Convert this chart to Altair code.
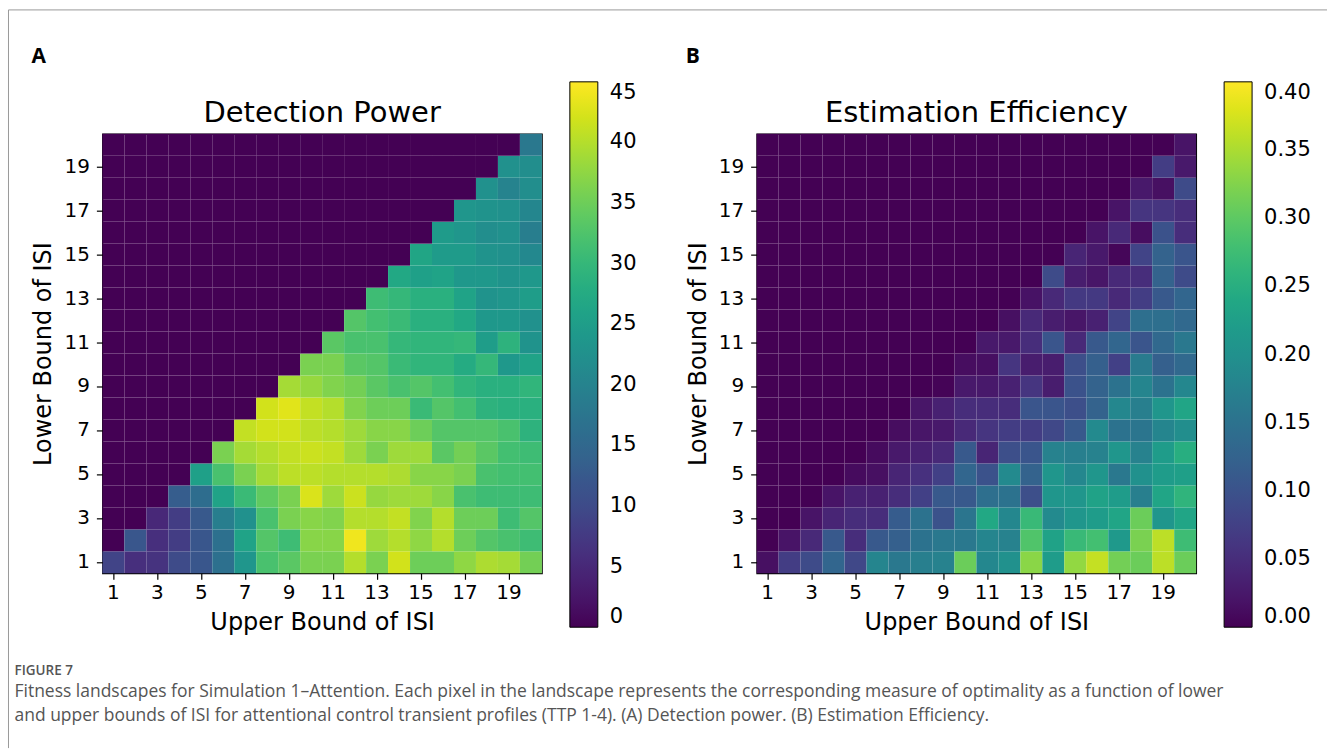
import altair as alt
import pandas as pd

# ---------------- data ----------------
upper_bounds = list(range(1, 21))
lower_bounds = list(range(1, 21))
tick_labels = [1, 3, 5, 7, 9, 11, 13, 15, 17, 19]

# Detection power: row i = lower bound i, values for upper bound i..20
dp_rows = [
    [9, 6, 6.5, 10, 12, 16.5, 23.5, 32, 33.5, 36, 36, 40, 36, 42, 35, 35, 37.5, 39.5, 39, 35.5],
    [12, 6, 8, 12, 16.5, 26, 33, 31, 37, 37, 44, 38.5, 40, 37.5, 40, 35, 33, 32, 31],
    [5, 8, 12.5, 19, 22.5, 32, 36, 37, 36.5, 40, 40, 41, 36.5, 40, 35, 35, 31, 33],
    [13, 16, 26, 30.5, 34, 36, 42.5, 38.5, 41.5, 38, 38.5, 38.5, 37, 32, 31, 31, 31],
    [25.5, 32, 36, 39, 40.5, 40.5, 40, 40, 40, 39.5, 37, 37, 36, 32, 31.5, 31.5],
    [36, 39, 40, 41, 41.5, 41, 38.5, 36, 38.5, 38.5, 33.5, 35.5, 33.5, 31.5, 31],
    [41, 42, 42, 40.5, 40, 38.5, 37, 37, 35, 33, 33, 33, 32, 29],
    [42, 43, 41, 40, 36.5, 35, 35, 30.5, 33, 31.5, 29, 28.5, 28.5],
    [39, 38, 36.5, 35.5, 33.5, 32, 33, 31.5, 29.5, 28.5, 28.5, 29.5],
    [36, 36, 33.5, 33, 30.5, 29.5, 29.5, 27.5, 30, 24, 26],
    [33.5, 32, 32, 30, 29.5, 29.5, 30, 25, 29, 23],
    [33, 31.5, 30.5, 28.5, 28.5, 27, 24, 24, 22.5],
    [31, 30, 28.5, 28.5, 26, 23, 23.5, 25],
    [27, 25.5, 26, 24, 24, 23, 24],
    [26.5, 24.5, 24.5, 23, 22.5, 21],
    [24.5, 23.5, 22, 22.5, 19],
    [23.5, 23, 22.5, 20.5],
    [22.5, 20, 22],
    [22.5, 22],
    [18],
]

# Estimation efficiency: row i = lower bound i, values for upper bound i..20
ee_rows = [
    [0.015, 0.07, 0.09, 0.13, 0.085, 0.18, 0.16, 0.17, 0.175, 0.31, 0.185, 0.20, 0.33, 0.22, 0.335, 0.365, 0.315, 0.31, 0.36, 0.31],
    [0.02, 0.045, 0.11, 0.05, 0.11, 0.12, 0.15, 0.16, 0.16, 0.18, 0.175, 0.29, 0.23, 0.27, 0.28, 0.215, 0.32, 0.36, 0.275],
    [0.02, 0.04, 0.05, 0.05, 0.115, 0.15, 0.10, 0.155, 0.24, 0.185, 0.27, 0.19, 0.21, 0.22, 0.235, 0.31, 0.21, 0.235],
    [0.02, 0.035, 0.035, 0.05, 0.075, 0.11, 0.11, 0.145, 0.15, 0.095, 0.21, 0.21, 0.23, 0.22, 0.17, 0.235, 0.26],
    [0.01, 0.015, 0.04, 0.055, 0.075, 0.13, 0.10, 0.19, 0.125, 0.21, 0.185, 0.21, 0.16, 0.20, 0.22, 0.225],
    [0.01, 0.025, 0.035, 0.045, 0.11, 0.04, 0.095, 0.105, 0.175, 0.17, 0.175, 0.21, 0.175, 0.22, 0.25],
    [0.012, 0.022, 0.025, 0.045, 0.06, 0.07, 0.07, 0.085, 0.11, 0.19, 0.15, 0.155, 0.18, 0.195],
    [0.022, 0.035, 0.05, 0.05, 0.05, 0.105, 0.105, 0.095, 0.125, 0.185, 0.17, 0.21, 0.235],
    [0.003, 0.025, 0.025, 0.035, 0.06, 0.03, 0.10, 0.125, 0.15, 0.18, 0.15, 0.185],
    [0.012, 0.014, 0.06, 0.03, 0.03, 0.095, 0.12, 0.075, 0.165, 0.12, 0.135],
    [0.025, 0.025, 0.05, 0.105, 0.045, 0.11, 0.13, 0.105, 0.135, 0.16],
    [0.015, 0.045, 0.03, 0.022, 0.035, 0.08, 0.145, 0.145, 0.135],
    [0.018, 0.045, 0.065, 0.065, 0.045, 0.07, 0.11, 0.13],
    [0.09, 0.03, 0.022, 0.045, 0.05, 0.125, 0.09],
    [0.04, 0.025, 0.005, 0.08, 0.125, 0.105],
    [0.02, 0.045, 0.012, 0.10, 0.05],
    [0.02, 0.06, 0.06, 0.05],
    [0.025, 0.015, 0.09],
    [0.07, 0.025],
    [0.02],
]

dp_ticks = [0, 5, 10, 15, 20, 25, 30, 35, 40, 45]
ee_ticks = [0.0, 0.05, 0.10, 0.15, 0.20, 0.25, 0.30, 0.35, 0.40]

caption_head = "FIGURE 7"
caption_line1 = ("Fitness landscapes for Simulation 1\u2013Attention. Each pixel in the landscape represents the "
                 "corresponding measure of optimality as a function of lower")
caption_line2 = ("and upper bounds of ISI for attentional control transient profiles (TTP 1-4). "
                 "(A) Detection power. (B) Estimation Efficiency.")

FONT = "DejaVu Sans"
CELL = 440


def grid(rows):
    recs = []
    for lo in lower_bounds:
        row = rows[lo - 1]
        for up in upper_bounds:
            v = row[up - lo] if up >= lo else 0.0
            recs.append({"upper": up, "lower": lo, "value": v})
    return pd.DataFrame(recs)


one = pd.DataFrame({"k": [0]})


def panel(df, title, domain, ticks, fmt, letter, extras):
    cscale = alt.Scale(scheme="viridis", domain=domain)
    heat = alt.Chart(df).mark_rect().encode(
        x=alt.X("upper:O",
                scale=alt.Scale(paddingInner=0, paddingOuter=0),
                axis=alt.Axis(values=tick_labels, labelAngle=0, title="Upper Bound of ISI")),
        y=alt.Y("lower:O", sort="descending",
                scale=alt.Scale(paddingInner=0, paddingOuter=0),
                axis=alt.Axis(values=tick_labels, title="Lower Bound of ISI", labelPadding=7)),
        color=alt.Color("value:Q", scale=cscale,
                        legend=alt.Legend(title=None, orient="none", legendX=468, legendY=-52,
                                          direction="vertical", gradientLength=546,
                                          gradientThickness=28, gradientStrokeColor="black",
                                          gradientStrokeWidth=1, values=ticks, format=fmt,
                                          labelFont=FONT, labelFontSize=21, labelColor="black",
                                          labelOffset=12, labelOverlap=False)),
    )
    lab = alt.Chart(one).mark_text(text=letter, font="Open Sans", fontWeight="bold", fontSize=21,
                                   align="left", baseline="middle", color="black").encode(
        x=alt.value(-71), y=alt.value(-77))
    ttl = alt.Chart(one).mark_text(text=title, font=FONT, fontSize=29, align="center",
                                   baseline="alphabetic", color="black").encode(
        x=alt.value(CELL / 2), y=alt.value(-12))
    layers = [heat, ttl, lab] + extras
    return alt.layer(*layers).properties(width=CELL, height=CELL)


border_left = alt.Chart(one).mark_rule(color="#9a9a9a", strokeWidth=1).encode(
    x=alt.value(-94), y=alt.value(-124), y2=alt.value(615))
border_top = alt.Chart(one).mark_rule(color="#9a9a9a", strokeWidth=1).encode(
    x=alt.value(-94), x2=alt.value(1226), y=alt.value(-124))
cap0 = alt.Chart(one).mark_text(text=caption_head, font="Open Sans", fontSize=13.5, fontWeight=600,
                                align="left", baseline="middle", color="#555555").encode(
    x=alt.value(-88), y=alt.value(538))
cap1 = alt.Chart(one).mark_text(text=caption_line1, font="Open Sans", fontSize=17.5,
                                align="left", baseline="middle", color="#555555").encode(
    x=alt.value(-88), y=alt.value(559))
cap2 = alt.Chart(one).mark_text(text=caption_line2, font="Open Sans", fontSize=17.5,
                                align="left", baseline="middle", color="#555555").encode(
    x=alt.value(-88), y=alt.value(583))

panel_a = panel(grid(dp_rows), "Detection Power", [0, 45], dp_ticks, "d", "A",
                [border_left, border_top, cap0, cap1, cap2])
panel_b = panel(grid(ee_rows), "Estimation Efficiency", [0, 0.40], ee_ticks, ".2f", "B", [])

chart = alt.hconcat(panel_a, panel_b, spacing=215, bounds="flush").resolve_scale(
    color="independent"
).properties(
    padding={"left": 6.5, "top": 7.5, "right": 0, "bottom": 0},
    background="white",
).configure_view(
    stroke="black", strokeWidth=1.2
).configure_axis(
    labelFont=FONT, labelFontSize=20, labelColor="black",
    tickColor="black", tickSize=6, tickWidth=1.2, labelPadding=3,
    titleFont=FONT, titleFontSize=24, titleFontWeight="normal", titleColor="black",
    titlePadding=8, domain=False, grid=False,
)

chart.save("out.html", embed_options={"renderer": "svg", "actions": False})
